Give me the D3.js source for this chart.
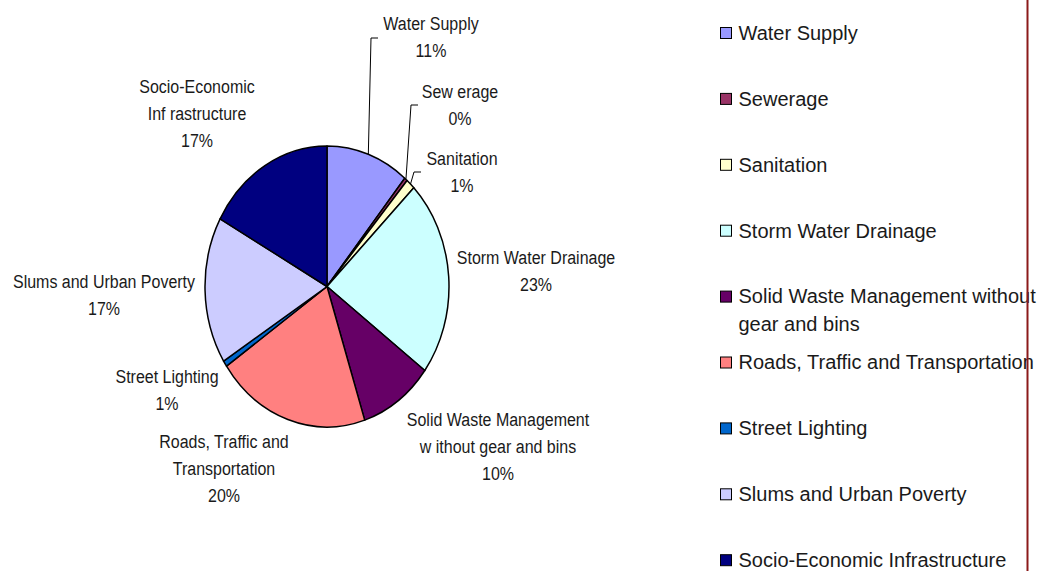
<!DOCTYPE html>
<html>
<head>
<meta charset="utf-8">
<script src="https://cdn.jsdelivr.net/npm/d3@7"></script>
<style>
  html, body { margin: 0; padding: 0; background: #fff; }
  svg { display: block; }
  text { font-family: "Liberation Sans", Arial, sans-serif; fill: #1a1a1a; }
</style>
</head>
<body>
<svg id="chart" width="1041" height="571"></svg>
<script>
// Budget share by sector (%), in drawing order clockwise from 12 o'clock
const categories = [
  "Water Supply", "Sewerage", "Sanitation", "Storm Water Drainage",
  "Solid Waste Management without gear and bins",
  "Roads, Traffic and Transportation", "Street Lighting",
  "Slums and Urban Poverty", "Socio-Economic Infrastructure"
];
const shares = [11.0, 0.4, 1.2, 22.6, 9.8, 20.4, 0.7, 16.9, 17.0];
const colors = ["#9999ff", "#993366", "#ffffcc", "#ccffff", "#660066",
                "#ff8080", "#0066cc", "#ccccff", "#000080"];

// Text as it is broken onto lines beside the slices and in the legend
const sliceLabelLines = [
  ["Water Supply"], ["Sew erage"], ["Sanitation"], ["Storm Water Drainage"],
  ["Solid Waste Management", "w ithout gear and bins"],
  ["Roads, Traffic and", "Transportation"], ["Street Lighting"],
  ["Slums and Urban Poverty"], ["Socio-Economic", "Inf rastructure"]
];
const legendLines = [
  ["Water Supply"], ["Sewerage"], ["Sanitation"], ["Storm Water Drainage"],
  ["Solid Waste Management without", "gear and bins"],
  ["Roads, Traffic and Transportation"], ["Street Lighting"],
  ["Slums and Urban Poverty"], ["Socio-Economic Infrastructure"]
];

// Layout
const cx = 327, cy = 286.5, rx = 122, ry = 140.5, sy = ry / rx;
const labelPos = [[431, 24], [460, 92], [462, 159], [536, 258], [498, 420],
                  [224, 442], [167, 377], [104, 282], [197, 87]];
const leaderElbow = {0: [[371, 38], [378, 38]], 1: [[411, 105], [418, 105]], 2: [[414, 172], [421, 172]]};
const labelFont = 16, labelLine = 26.8, labelStretch = 1.1;
const legendX = 720, legendY0 = 33, legendStep = 65.9, legendFont = 20, legendLine = 28;

const svg = d3.select("#chart");

const pie = d3.pie().sort(null).value(d => d)(shares);
const arc = d3.arc().innerRadius(0).outerRadius(rx);

// Pie, drawn round and stretched vertically into an ellipse
const pieG = svg.append("g").attr("transform", `translate(${cx},${cy}) scale(1,${sy})`);
pieG.selectAll("path")
  .data(pie)
  .join("path")
  .attr("d", arc)
  .attr("fill", (d, i) => colors[i])
  .attr("stroke", "#000")
  .attr("stroke-width", 1.5)
  .attr("stroke-linejoin", "round")
  .attr("vector-effect", "non-scaling-stroke");

// Leader lines for the narrow slices at the top
const leaders = svg.append("g");
pie.forEach((d, i) => {
  if (!leaderElbow[i]) return;
  const a = (d.startAngle + d.endAngle) / 2;
  const start = [cx + rx * Math.sin(a), cy - ry * Math.cos(a)];
  leaders.append("polyline")
    .attr("points", [start, ...leaderElbow[i]].map(p => p.join(",")).join(" "))
    .attr("fill", "none")
    .attr("stroke", "#000")
    .attr("stroke-width", 1);
});

// Slice labels: name plus rounded percentage
const total = d3.sum(shares);
const labels = svg.append("g");
sliceLabelLines.forEach((lines, i) => {
  const all = lines.concat([Math.round(shares[i] / total * 100) + "%"]);
  const [x, y] = labelPos[i];
  all.forEach((t, k) => {
    labels.append("text")
      .attr("transform", `translate(${x},${y + k * labelLine}) scale(1,${labelStretch})`)
      .attr("text-anchor", "middle")
      .attr("dy", "0.36em")
      .attr("font-size", labelFont)
      .text(t);
  });
});

// Legend
const legend = svg.append("g");
legendLines.forEach((lines, i) => {
  const y = legendY0 + i * legendStep;
  legend.append("rect")
    .attr("x", legendX + 0.5).attr("y", y - 5.5)
    .attr("width", 11).attr("height", 11)
    .attr("fill", colors[i])
    .attr("stroke", "#000").attr("stroke-width", 1);
  lines.forEach((t, k) => {
    legend.append("text")
      .attr("x", legendX + 18.5)
      .attr("y", y + k * legendLine)
      .attr("dy", "0.34em")
      .attr("font-size", legendFont)
      .text(t);
  });
});

// Right border of the chart area
svg.append("line")
  .attr("x1", 1027.5).attr("x2", 1027.5)
  .attr("y1", 0).attr("y2", 571)
  .attr("stroke", "#8b1a1a")
  .attr("stroke-width", 2);
</script>
</body>
</html>
